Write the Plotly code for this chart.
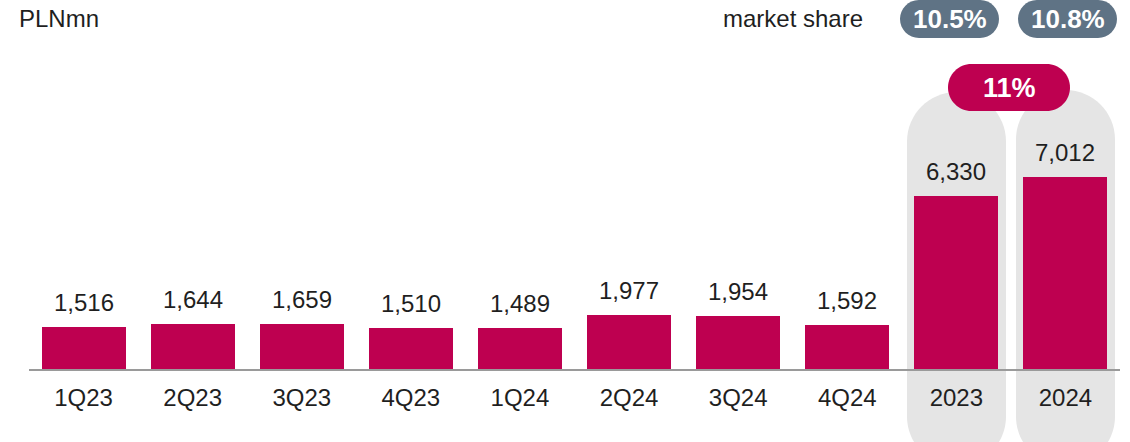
import plotly.graph_objects as go

categories = ["1Q23", "2Q23", "3Q23", "4Q23", "1Q24", "2Q24", "3Q24", "4Q24", "2023", "2024"]
values = [1516, 1644, 1659, 1510, 1489, 1977, 1954, 1592, 6330, 7012]
value_labels = ["1,516", "1,644", "1,659", "1,510", "1,489", "1,977", "1,954", "1,592", "6,330", "7,012"]
market_share = ["10.5%", "10.8%"]
growth_badge = "11%"
unit_label = "PLNmn"
share_label = "market share"

W, H = 1130, 442
ML, MR, MT, MB = 29, 10, 10, 73
PW = W - ML - MR
PH = H - MT - MB
CRIMSON = "#be0050"
PILL_GRAY = "#e5e5e5"
BADGE_GRAY = "#5f7385"
TXT = "#1f1f1f"
FONT = "Liberation Sans, Arial, sans-serif"


def px_x(px):
    return (px - ML) / PW


def px_y(py):
    return (H - MB - py) / PH


def pill_path(x0, y0, x1, y1, r):
    # pixel coords, y downwards; rounded rect with cubic bezier corners
    k = 0.5523 * r
    def P(x, y):
        return f"{px_x(x):.5f},{px_y(y):.5f}"
    d = f"M {P(x0 + r, y0)} L {P(x1 - r, y0)} "
    d += f"C {P(x1 - r + k, y0)} {P(x1, y0 + r - k)} {P(x1, y0 + r)} "
    d += f"L {P(x1, y1 - r)} "
    d += f"C {P(x1, y1 - r + k)} {P(x1 - r + k, y1)} {P(x1 - r, y1)} "
    d += f"L {P(x0 + r, y1)} "
    d += f"C {P(x0 + r - k, y1)} {P(x0, y1 - r + k)} {P(x0, y1 - r)} "
    d += f"L {P(x0, y0 + r)} "
    d += f"C {P(x0, y0 + r - k)} {P(x0 + r - k, y0)} {P(x0 + r, y0)} Z"
    return d


xs = list(range(len(categories)))

fig = go.Figure()
fig.add_trace(go.Bar(
    x=xs, y=values, width=0.77,
    marker=dict(color=CRIMSON, line=dict(width=0)),
    hoverinfo="skip",
))

shapes = []
# gray pills behind annual bars
shapes.append(dict(type="path", xref="paper", yref="paper", layer="below",
                   path=pill_path(907, 92, 1006, 466, 49.5),
                   fillcolor=PILL_GRAY, line=dict(width=0)))
shapes.append(dict(type="path", xref="paper", yref="paper", layer="below",
                   path=pill_path(1016, 90, 1115, 466, 49.5),
                   fillcolor=PILL_GRAY, line=dict(width=0)))
# market share badges
shapes.append(dict(type="path", xref="paper", yref="paper", layer="above",
                   path=pill_path(900, 0, 999, 38, 19),
                   fillcolor=BADGE_GRAY, line=dict(width=0)))
shapes.append(dict(type="path", xref="paper", yref="paper", layer="above",
                   path=pill_path(1018, 0, 1117, 38, 19),
                   fillcolor=BADGE_GRAY, line=dict(width=0)))
# growth badge
shapes.append(dict(type="path", xref="paper", yref="paper", layer="above",
                   path=pill_path(948, 64, 1070, 111, 23.5),
                   fillcolor=CRIMSON, line=dict(width=0)))

annotations = []
for x, v, lab in zip(xs, values, value_labels):
    annotations.append(dict(x=x, y=v, xref="x", yref="y", text=lab, showarrow=False,
                            yanchor="bottom", yshift=9,
                            font=dict(size=24, color=TXT, family=FONT)))
annotations.append(dict(x=px_x(17), y=px_y(18), xref="paper", yref="paper", text=unit_label,
                        showarrow=False, xanchor="left", yanchor="middle",
                        font=dict(size=24, color=TXT, family=FONT)))
annotations.append(dict(x=px_x(793), y=px_y(18), xref="paper", yref="paper", text=share_label,
                        showarrow=False, xanchor="center", yanchor="middle",
                        font=dict(size=24, color=TXT, family=FONT)))
for cx, t in zip([949.5, 1067.5], market_share):
    annotations.append(dict(x=px_x(cx), y=px_y(19), xref="paper", yref="paper", text=f"<b>{t}</b>",
                            showarrow=False, xanchor="center", yanchor="middle",
                            font=dict(size=26, color="white", family=FONT)))
annotations.append(dict(x=px_x(1009), y=px_y(88), xref="paper", yref="paper", text=f"<b>{growth_badge}</b>",
                        showarrow=False, xanchor="center", yanchor="middle",
                        font=dict(size=27, color="white", family=FONT)))

fig.update_layout(
    width=W, height=H,
    margin=dict(l=ML, r=MR, t=MT, b=MB, pad=0),
    paper_bgcolor="white",
    plot_bgcolor="rgba(0,0,0,0)",
    showlegend=False,
    shapes=shapes,
    annotations=annotations,
    bargap=0,
    xaxis=dict(range=[-0.5, 9.5], tickmode="array", tickvals=xs, ticktext=categories,
               showgrid=False, zeroline=False, showline=True, linecolor="#9a9a9a", linewidth=2,
               ticks="outside", ticklen=6, tickcolor="rgba(0,0,0,0)",
               tickfont=dict(size=24, color=TXT, family=FONT), fixedrange=True),
    yaxis=dict(range=[0, PH / 0.02738], showgrid=False, zeroline=False, showline=False,
               showticklabels=False, ticks="", fixedrange=True),
)

fig.write_html("out.html", config={"displayModeBar": False},
               post_script="document.body.style.margin='0';document.body.style.overflow='hidden';")
